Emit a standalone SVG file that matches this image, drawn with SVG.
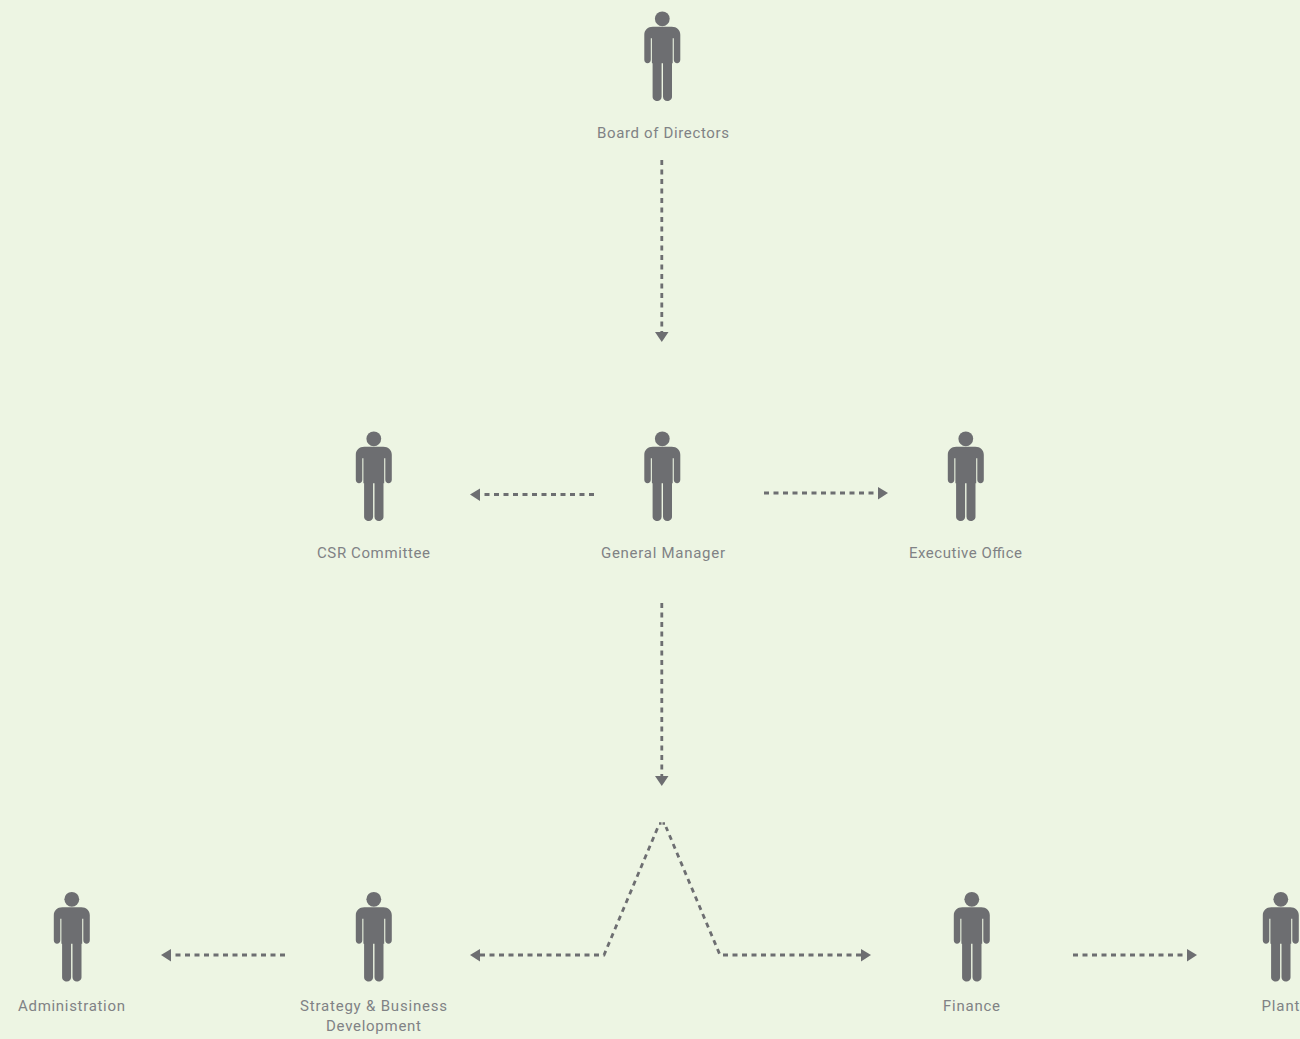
<svg xmlns="http://www.w3.org/2000/svg" xmlns:xlink="http://www.w3.org/1999/xlink" width="1300" height="1039" viewBox="0 0 1300 1039">
<style>
.bg{fill:#edf5e3}
.p{fill:#6d6e71}
.t{font-family:"Roboto","Liberation Sans",sans-serif;font-size:15px;fill:#808285;text-anchor:middle}
.c{fill:none;stroke:#6d6e71;stroke-width:2.800;stroke-dasharray:5 4.500}
.d{fill:none;stroke:#6d6e71;stroke-width:2.500;stroke-dasharray:2.500 1}
.a{fill:#6d6e71}
</style>
<defs>
<g id="person">
<circle cx="0" cy="7.500" r="7.400" class="p"/>
<path class="p" d="M-9.500 15.500H9.500C14.500 15.500 18 19 18 23.500V48.500C18 50.500 16.500 52 14.800 52C13 52 11.500 50.500 11.500 48.500V27H10.400V52H9.700V85.500C9.700 88 7.500 89.800 5 89.800C2.500 89.800 .7 88 .7 85.500V52H-.7V85.500C-.7 88 -2.500 89.800 -5 89.800C-7.500 89.800 -9.700 88 -9.700 85.500V52H-10.400V27H-11.500V48.500C-11.500 50.500 -13 52 -14.800 52C-16.500 52 -18 50.500 -18 48.500V23.500C-18 19 -14.500 15.500 -9.500 15.500Z"/>
</g>
</defs>
<rect class="bg" width="1300" height="1039"/>
<g id="connectors">
<path class="c" d="M661.800 160V332"/><path class="a" d="M655 332H668.500L661.800 342Z"/>
<path class="c" d="M594 494.500H480"/><path class="a" d="M480 488.500V501L470 494.500Z"/>
<path class="c" d="M764 493H878"/><path class="a" d="M878 487V499.500L888 493Z"/>
<path class="c" d="M661.800 603V776"/><path class="a" d="M655 776H668.500L661.800 786Z"/>
<path class="c" d="M285 955H171"/><path class="a" d="M171 949V961.500L161 955Z"/>
<path class="c" d="M480 955H604L658 827"/>
<path class="d" d="M659 823.500H665"/>
<path class="c" d="M861 955H720L666 827"/>
<path class="a" d="M480 949V961.500L470 955Z"/>
<path class="a" d="M861 949V961.500L871 955Z"/>
<path class="c" d="M1073 955H1187"/><path class="a" d="M1187 949V961.500L1197 955Z"/>
</g>
<g id="board"><use xlink:href="#person" href="#person" x="662.300" y="11.300"/><text class="t" x="663" y="137.500" textLength="132">Board of Directors</text></g>
<g id="csr"><use xlink:href="#person" href="#person" x="373.800" y="431.300"/><text class="t" x="373.500" y="557.500" textLength="113">CSR Committee</text></g>
<g id="gm"><use xlink:href="#person" href="#person" x="662.300" y="431.300"/><text class="t" x="663" y="557.500" textLength="124">General Manager</text></g>
<g id="exec"><use xlink:href="#person" href="#person" x="965.800" y="431.300"/><text class="t" x="965.500" y="557.500" textLength="113">Executive Office</text></g>
<g id="admin"><use xlink:href="#person" href="#person" x="71.800" y="891.800"/><text class="t" x="71.500" y="1010.500" textLength="107">Administration</text></g>
<g id="strategy"><use xlink:href="#person" href="#person" x="373.800" y="891.800"/><text class="t" x="373.500" y="1010.500" textLength="147">Strategy &amp; Business</text><text class="t" x="373.500" y="1030.500" textLength="95">Development</text></g>
<g id="finance"><use xlink:href="#person" href="#person" x="971.800" y="891.800"/><text class="t" x="971.500" y="1010.500" textLength="57">Finance</text></g>
<g id="plant"><use xlink:href="#person" href="#person" x="1280.800" y="891.800"/><text class="t" x="1280.500" y="1010.500" textLength="38">Plant</text></g>
</svg>
